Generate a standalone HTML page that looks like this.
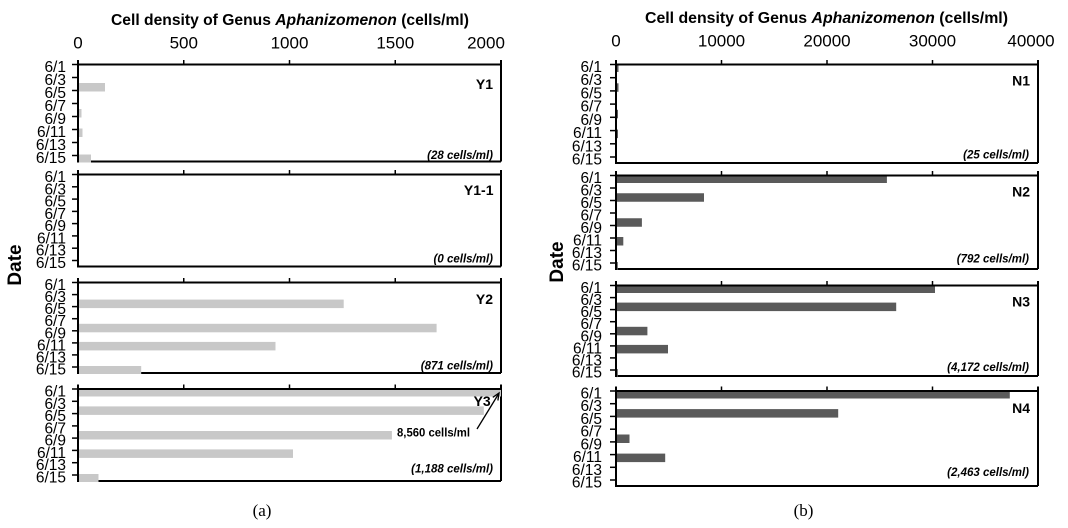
<!DOCTYPE html>
<html><head><meta charset="utf-8"><style>
html,body{margin:0;padding:0;background:#fff;}
svg{display:block;}
text{font-family:"Liberation Sans",Arial,sans-serif;fill:#000;}
.dl{font-size:15.5px;text-anchor:end;}
.xl{font-size:17px;text-anchor:middle;}
.pl{font-size:14px;font-weight:bold;text-anchor:end;}
.fn{font-size:11.5px;font-weight:bold;font-style:italic;text-anchor:end;}
.ttl{font-size:16px;font-weight:bold;}
.ax{stroke:#000;stroke-width:2;fill:none;}
.tk{stroke:#000;stroke-width:1.5;}
.lb{fill:#c8c8c8;}
.db{fill:#5a5a5a;}
</style></head><body>
<svg width="1068" height="528" viewBox="0 0 1068 528" xmlns="http://www.w3.org/2000/svg">
<rect width="1068" height="528" fill="#fff"/>

<!-- ===== Titles ===== -->
<text class="ttl" x="111" y="25" textLength="358" lengthAdjust="spacingAndGlyphs">Cell density of Genus <tspan font-style="italic">Aphanizomenon</tspan> (cells/ml)</text>
<text class="ttl" x="645" y="23" textLength="363" lengthAdjust="spacingAndGlyphs">Cell density of Genus <tspan font-style="italic">Aphanizomenon</tspan> (cells/ml)</text>

<!-- x tick labels -->
<text class="xl" x="78" y="48.5">0</text>
<text class="xl" x="183.75" y="48.5">500</text>
<text class="xl" x="289.5" y="48.5">1000</text>
<text class="xl" x="395.25" y="48.5">1500</text>
<text class="xl" x="486" y="48.5">2000</text>

<text class="xl" x="616" y="46.5">0</text>
<text class="xl" x="721.5" y="46.5">10000</text>
<text class="xl" x="827" y="46.5">20000</text>
<text class="xl" x="932.5" y="46.5">30000</text>
<text class="xl" x="1031" y="46.5">40000</text>

<!-- Date labels -->
<text x="0" y="0" font-size="19" font-weight="bold" text-anchor="middle" transform="translate(20.8,265) rotate(-90)">Date</text>
<text x="0" y="0" font-size="19" font-weight="bold" text-anchor="middle" transform="translate(563,262) rotate(-90)">Date</text>

<!-- (a) (b) -->
<text x="262" y="516" font-size="17" text-anchor="middle" style="font-family:'Liberation Serif',serif">(a)</text>
<text x="803.5" y="516" font-size="17" text-anchor="middle" style="font-family:'Liberation Serif',serif">(b)</text>

<!-- ================= LEFT PANELS ================= -->
<!-- Y1 -->
<g>
<line class="ax" x1="501" y1="60" x2="501" y2="161.5"/>
<line class="ax" x1="78" y1="161.5" x2="501" y2="161.5"/>
<rect class="lb" x="78" y="83" width="27" height="8.5"/>
<rect class="lb" x="78" y="109" width="3.5" height="8.5"/>
<rect class="lb" x="78" y="128.5" width="4.5" height="8.5"/>
<rect class="lb" x="78" y="154.5" width="13" height="8"/>
<line class="ax" x1="77" y1="64.5" x2="502" y2="64.5"/>
<line class="ax" x1="78" y1="60" x2="78" y2="162.5"/>
<line class="tk" x1="183.75" y1="60" x2="183.75" y2="65"/>
<line class="tk" x1="289.5" y1="60" x2="289.5" y2="65"/>
<line class="tk" x1="395.25" y1="60" x2="395.25" y2="65"/>
<line class="tk" x1="72" y1="64.5" x2="78" y2="64.5"/>
<line class="tk" x1="72" y1="77.5" x2="78" y2="77.5"/>
<line class="tk" x1="72" y1="90.5" x2="78" y2="90.5"/>
<line class="tk" x1="72" y1="103.5" x2="78" y2="103.5"/>
<line class="tk" x1="72" y1="116.5" x2="78" y2="116.5"/>
<line class="tk" x1="72" y1="129.5" x2="78" y2="129.5"/>
<line class="tk" x1="72" y1="142.5" x2="78" y2="142.5"/>
<line class="tk" x1="72" y1="155.5" x2="78" y2="155.5"/>
<text class="dl" x="66" y="72">6/1</text>
<text class="dl" x="66" y="85">6/3</text>
<text class="dl" x="66" y="98">6/5</text>
<text class="dl" x="66" y="111">6/7</text>
<text class="dl" x="66" y="124">6/9</text>
<text class="dl" x="66" y="137">6/11</text>
<text class="dl" x="66" y="150">6/13</text>
<text class="dl" x="66" y="163">6/15</text>
<text class="pl" x="493" y="89">Y1</text>
<text class="fn" x="493" y="159">(28 cells/ml)</text>
</g>

<!-- Y1-1 -->
<g>
<line class="ax" x1="501" y1="170" x2="501" y2="266.5"/>
<line class="ax" x1="78" y1="266.5" x2="501" y2="266.5"/>
<line class="ax" x1="77" y1="174.5" x2="502" y2="174.5"/>
<line class="ax" x1="78" y1="170" x2="78" y2="267.5"/>
<line class="tk" x1="183.75" y1="170" x2="183.75" y2="175"/>
<line class="tk" x1="289.5" y1="170" x2="289.5" y2="175"/>
<line class="tk" x1="395.25" y1="170" x2="395.25" y2="175"/>
<line class="tk" x1="72" y1="174.5" x2="78" y2="174.5"/>
<line class="tk" x1="72" y1="186.8" x2="78" y2="186.8"/>
<line class="tk" x1="72" y1="199.1" x2="78" y2="199.1"/>
<line class="tk" x1="72" y1="211.4" x2="78" y2="211.4"/>
<line class="tk" x1="72" y1="223.6" x2="78" y2="223.6"/>
<line class="tk" x1="72" y1="235.9" x2="78" y2="235.9"/>
<line class="tk" x1="72" y1="248.2" x2="78" y2="248.2"/>
<line class="tk" x1="72" y1="260.5" x2="78" y2="260.5"/>
<text class="dl" x="66" y="182">6/1</text>
<text class="dl" x="66" y="194.3">6/3</text>
<text class="dl" x="66" y="206.6">6/5</text>
<text class="dl" x="66" y="218.9">6/7</text>
<text class="dl" x="66" y="231.1">6/9</text>
<text class="dl" x="66" y="243.4">6/11</text>
<text class="dl" x="66" y="255.7">6/13</text>
<text class="dl" x="66" y="268">6/15</text>
<text class="pl" x="493.5" y="195">Y1-1</text>
<text class="fn" x="493" y="262.5">(0 cells/ml)</text>
</g>

<!-- Y2 -->
<g>
<line class="ax" x1="501" y1="278" x2="501" y2="373"/>
<line class="ax" x1="78" y1="373" x2="501" y2="373"/>
<rect class="lb" x="78" y="299.6" width="265.7" height="8.5"/>
<rect class="lb" x="78" y="323.8" width="358.6" height="8.5"/>
<rect class="lb" x="78" y="341.9" width="197.5" height="8.5"/>
<rect class="lb" x="78" y="366" width="63.2" height="8"/>
<line class="ax" x1="77" y1="282.5" x2="502" y2="282.5"/>
<line class="ax" x1="78" y1="278" x2="78" y2="374"/>
<line class="tk" x1="183.75" y1="278" x2="183.75" y2="283"/>
<line class="tk" x1="289.5" y1="278" x2="289.5" y2="283"/>
<line class="tk" x1="395.25" y1="278" x2="395.25" y2="283"/>
<line class="tk" x1="72" y1="282.5" x2="78" y2="282.5"/>
<line class="tk" x1="72" y1="294.6" x2="78" y2="294.6"/>
<line class="tk" x1="72" y1="306.6" x2="78" y2="306.6"/>
<line class="tk" x1="72" y1="318.7" x2="78" y2="318.7"/>
<line class="tk" x1="72" y1="330.8" x2="78" y2="330.8"/>
<line class="tk" x1="72" y1="342.9" x2="78" y2="342.9"/>
<line class="tk" x1="72" y1="354.9" x2="78" y2="354.9"/>
<line class="tk" x1="72" y1="367" x2="78" y2="367"/>
<text class="dl" x="66" y="290">6/1</text>
<text class="dl" x="66" y="302.1">6/3</text>
<text class="dl" x="66" y="314.1">6/5</text>
<text class="dl" x="66" y="326.2">6/7</text>
<text class="dl" x="66" y="338.3">6/9</text>
<text class="dl" x="66" y="350.4">6/11</text>
<text class="dl" x="66" y="362.4">6/13</text>
<text class="dl" x="66" y="374.5">6/15</text>
<text class="pl" x="493" y="304">Y2</text>
<text class="fn" x="493" y="369.5">(871 cells/ml)</text>
</g>

<!-- Y3 -->
<g>
<line class="ax" x1="501" y1="384.5" x2="501" y2="481"/>
<line class="ax" x1="78" y1="481" x2="501" y2="481"/>
<rect class="lb" x="78" y="388" width="423" height="8.5"/>
<rect class="lb" x="78" y="406.4" width="405.8" height="8.5"/>
<rect class="lb" x="78" y="431" width="313.9" height="8.5"/>
<rect class="lb" x="78" y="449.4" width="215" height="8.5"/>
<rect class="lb" x="78" y="474" width="20.5" height="8"/>
<line class="ax" x1="77" y1="389" x2="502" y2="389"/>
<line class="ax" x1="78" y1="384.5" x2="78" y2="482"/>
<line class="tk" x1="183.75" y1="384.5" x2="183.75" y2="389.5"/>
<line class="tk" x1="289.5" y1="384.5" x2="289.5" y2="389.5"/>
<line class="tk" x1="395.25" y1="384.5" x2="395.25" y2="389.5"/>
<line class="tk" x1="72" y1="389" x2="78" y2="389"/>
<line class="tk" x1="72" y1="401.3" x2="78" y2="401.3"/>
<line class="tk" x1="72" y1="413.6" x2="78" y2="413.6"/>
<line class="tk" x1="72" y1="425.9" x2="78" y2="425.9"/>
<line class="tk" x1="72" y1="438.1" x2="78" y2="438.1"/>
<line class="tk" x1="72" y1="450.4" x2="78" y2="450.4"/>
<line class="tk" x1="72" y1="462.7" x2="78" y2="462.7"/>
<line class="tk" x1="72" y1="475" x2="78" y2="475"/>
<text class="dl" x="66" y="396.5">6/1</text>
<text class="dl" x="66" y="408.8">6/3</text>
<text class="dl" x="66" y="421.1">6/5</text>
<text class="dl" x="66" y="433.4">6/7</text>
<text class="dl" x="66" y="445.6">6/9</text>
<text class="dl" x="66" y="457.9">6/11</text>
<text class="dl" x="66" y="470.2">6/13</text>
<text class="dl" x="66" y="482.5">6/15</text>
<text class="pl" x="490.7" y="406">Y3</text>
<text x="397" y="436.5" font-size="11.5" font-weight="bold" textLength="73" lengthAdjust="spacingAndGlyphs">8,560 cells/ml</text>
<line x1="477" y1="429" x2="498.5" y2="394" stroke="#000" stroke-width="1.3"/>
<polyline points="492.8,397.4 499,393 497.9,400.5" fill="none" stroke="#000" stroke-width="1.3"/>
<text class="fn" x="493" y="472.5">(1,188 cells/ml)</text>
</g>

<!-- ================= RIGHT PANELS ================= -->
<!-- N1 -->
<g>
<line class="ax" x1="1038" y1="60" x2="1038" y2="163"/>
<line class="ax" x1="616" y1="163" x2="1038" y2="163"/>
<rect class="db" x="616" y="63.5" width="2.5" height="8.5"/>
<rect class="db" x="616" y="83.3" width="2.5" height="8.5"/>
<rect class="db" x="616" y="109.8" width="2" height="8.5"/>
<rect class="db" x="616" y="129.6" width="2" height="8.5"/>
<line class="ax" x1="615" y1="64.5" x2="1039" y2="64.5"/>
<line class="ax" x1="616" y1="60" x2="616" y2="164"/>
<line class="tk" x1="721.5" y1="60" x2="721.5" y2="65"/>
<line class="tk" x1="827" y1="60" x2="827" y2="65"/>
<line class="tk" x1="932.5" y1="60" x2="932.5" y2="65"/>
<line class="tk" x1="610" y1="64.5" x2="616" y2="64.5"/>
<line class="tk" x1="610" y1="77.7" x2="616" y2="77.7"/>
<line class="tk" x1="610" y1="90.9" x2="616" y2="90.9"/>
<line class="tk" x1="610" y1="104.1" x2="616" y2="104.1"/>
<line class="tk" x1="610" y1="117.3" x2="616" y2="117.3"/>
<line class="tk" x1="610" y1="130.6" x2="616" y2="130.6"/>
<line class="tk" x1="610" y1="143.8" x2="616" y2="143.8"/>
<line class="tk" x1="610" y1="157" x2="616" y2="157"/>
<text class="dl" x="602" y="72">6/1</text>
<text class="dl" x="602" y="85.2">6/3</text>
<text class="dl" x="602" y="98.4">6/5</text>
<text class="dl" x="602" y="111.6">6/7</text>
<text class="dl" x="602" y="124.8">6/9</text>
<text class="dl" x="602" y="138.1">6/11</text>
<text class="dl" x="602" y="151.3">6/13</text>
<text class="dl" x="602" y="164.5">6/15</text>
<text class="pl" x="1030" y="85.5">N1</text>
<text class="fn" x="1029" y="158.5">(25 cells/ml)</text>
</g>

<!-- N2 -->
<g>
<line class="ax" x1="1038" y1="171" x2="1038" y2="269"/>
<line class="ax" x1="616" y1="269" x2="1038" y2="269"/>
<rect class="db" x="616" y="174.5" width="270.9" height="8.5"/>
<rect class="db" x="616" y="193.25" width="88" height="8.5"/>
<rect class="db" x="616" y="218.25" width="25.9" height="8.5"/>
<rect class="db" x="616" y="237" width="7.3" height="8.5"/>
<rect class="db" x="616" y="262" width="1.8" height="8"/>
<line class="ax" x1="615" y1="175.5" x2="1039" y2="175.5"/>
<line class="ax" x1="616" y1="171" x2="616" y2="270"/>
<line class="tk" x1="721.5" y1="171" x2="721.5" y2="176"/>
<line class="tk" x1="827" y1="171" x2="827" y2="176"/>
<line class="tk" x1="932.5" y1="171" x2="932.5" y2="176"/>
<line class="tk" x1="610" y1="175.5" x2="616" y2="175.5"/>
<line class="tk" x1="610" y1="188" x2="616" y2="188"/>
<line class="tk" x1="610" y1="200.5" x2="616" y2="200.5"/>
<line class="tk" x1="610" y1="213" x2="616" y2="213"/>
<line class="tk" x1="610" y1="225.5" x2="616" y2="225.5"/>
<line class="tk" x1="610" y1="238" x2="616" y2="238"/>
<line class="tk" x1="610" y1="250.5" x2="616" y2="250.5"/>
<line class="tk" x1="610" y1="263" x2="616" y2="263"/>
<text class="dl" x="602" y="183">6/1</text>
<text class="dl" x="602" y="195.5">6/3</text>
<text class="dl" x="602" y="208">6/5</text>
<text class="dl" x="602" y="220.5">6/7</text>
<text class="dl" x="602" y="233">6/9</text>
<text class="dl" x="602" y="245.5">6/11</text>
<text class="dl" x="602" y="258">6/13</text>
<text class="dl" x="602" y="270.5">6/15</text>
<text class="pl" x="1030" y="196.5">N2</text>
<text class="fn" x="1029" y="262.5">(792 cells/ml)</text>
</g>

<!-- N3 -->
<g>
<line class="ax" x1="1038" y1="281" x2="1038" y2="376"/>
<line class="ax" x1="616" y1="376" x2="1038" y2="376"/>
<rect class="db" x="616" y="284.5" width="319" height="8.5"/>
<rect class="db" x="616" y="302.6" width="280.2" height="8.5"/>
<rect class="db" x="616" y="326.8" width="31.4" height="8.5"/>
<rect class="db" x="616" y="344.9" width="52" height="8.5"/>
<rect class="db" x="616" y="369.1" width="1.8" height="8"/>
<line class="ax" x1="615" y1="285.5" x2="1039" y2="285.5"/>
<line class="ax" x1="616" y1="281" x2="616" y2="377"/>
<line class="tk" x1="721.5" y1="281" x2="721.5" y2="286"/>
<line class="tk" x1="827" y1="281" x2="827" y2="286"/>
<line class="tk" x1="932.5" y1="281" x2="932.5" y2="286"/>
<line class="tk" x1="610" y1="285.5" x2="616" y2="285.5"/>
<line class="tk" x1="610" y1="297.6" x2="616" y2="297.6"/>
<line class="tk" x1="610" y1="309.6" x2="616" y2="309.6"/>
<line class="tk" x1="610" y1="321.7" x2="616" y2="321.7"/>
<line class="tk" x1="610" y1="333.8" x2="616" y2="333.8"/>
<line class="tk" x1="610" y1="345.9" x2="616" y2="345.9"/>
<line class="tk" x1="610" y1="357.9" x2="616" y2="357.9"/>
<line class="tk" x1="610" y1="370" x2="616" y2="370"/>
<text class="dl" x="602" y="293">6/1</text>
<text class="dl" x="602" y="305.1">6/3</text>
<text class="dl" x="602" y="317.1">6/5</text>
<text class="dl" x="602" y="329.2">6/7</text>
<text class="dl" x="602" y="341.3">6/9</text>
<text class="dl" x="602" y="353.4">6/11</text>
<text class="dl" x="602" y="365.4">6/13</text>
<text class="dl" x="602" y="377.5">6/15</text>
<text class="pl" x="1030" y="306.5">N3</text>
<text class="fn" x="1029" y="371">(4,172 cells/ml)</text>
</g>

<!-- N4 -->
<g>
<line class="ax" x1="1038" y1="386.5" x2="1038" y2="486"/>
<line class="ax" x1="616" y1="486" x2="1038" y2="486"/>
<rect class="db" x="616" y="390" width="393.8" height="8.5"/>
<rect class="db" x="616" y="409.1" width="222.2" height="8.5"/>
<rect class="db" x="616" y="434.5" width="13.5" height="8.5"/>
<rect class="db" x="616" y="453.6" width="49.2" height="8.5"/>
<line class="ax" x1="615" y1="391" x2="1039" y2="391"/>
<line class="ax" x1="616" y1="386.5" x2="616" y2="487"/>
<line class="tk" x1="721.5" y1="386.5" x2="721.5" y2="391.5"/>
<line class="tk" x1="827" y1="386.5" x2="827" y2="391.5"/>
<line class="tk" x1="932.5" y1="386.5" x2="932.5" y2="391.5"/>
<line class="tk" x1="610" y1="391" x2="616" y2="391"/>
<line class="tk" x1="610" y1="403.7" x2="616" y2="403.7"/>
<line class="tk" x1="610" y1="416.4" x2="616" y2="416.4"/>
<line class="tk" x1="610" y1="429.2" x2="616" y2="429.2"/>
<line class="tk" x1="610" y1="441.9" x2="616" y2="441.9"/>
<line class="tk" x1="610" y1="454.6" x2="616" y2="454.6"/>
<line class="tk" x1="610" y1="467.3" x2="616" y2="467.3"/>
<line class="tk" x1="610" y1="480" x2="616" y2="480"/>
<text class="dl" x="602" y="398.5">6/1</text>
<text class="dl" x="602" y="411.2">6/3</text>
<text class="dl" x="602" y="423.9">6/5</text>
<text class="dl" x="602" y="436.7">6/7</text>
<text class="dl" x="602" y="449.4">6/9</text>
<text class="dl" x="602" y="462.1">6/11</text>
<text class="dl" x="602" y="474.8">6/13</text>
<text class="dl" x="602" y="487.5">6/15</text>
<text class="pl" x="1030" y="413">N4</text>
<text class="fn" x="1029" y="476">(2,463 cells/ml)</text>
</g>
</svg>
</body></html>
